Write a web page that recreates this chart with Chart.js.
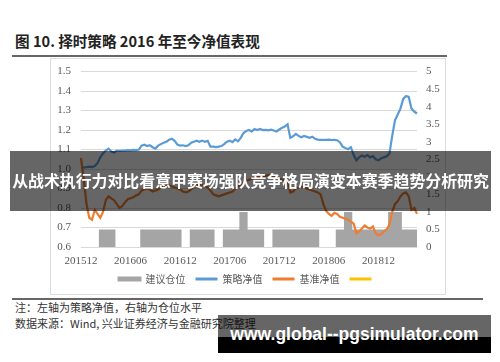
<!DOCTYPE html>
<html>
<head>
<meta charset="utf-8">
<script src="https://cdn.jsdelivr.net/npm/chart.js@4.4.1/dist/chart.umd.min.js"></script>
<style>
  body { margin: 0; width: 500px; height: 362px; background: #fff; position: relative; overflow: hidden;
         font-family: "Noto Sans CJK SC", sans-serif; }
  .abs { position: absolute; }
  #title { left: 15px; top: 31px; font-size: 14.6px; font-weight: bold; color: #222; white-space: nowrap; line-height: 20px; }
  #ruleTop { left: 12px; top: 55px; width: 435px; height: 2px; background: #666; }
  #ruleBottom { left: 12px; top: 298px; width: 471px; height: 2px; background: #666; }
  #frame { left: 50px; top: 58px; width: 394px; height: 235px; border: 1px solid #dcdcdc; }
  #chartBox { left: 50px; top: 55px; width: 395px; height: 239px; }
  .note { left: 15px; font-size: 11px; color: #333; white-space: nowrap; line-height: 14px; }
  #band { left: 10px; top: 151px; width: 481px; height: 60px; background: rgba(0,0,0,0.6);
          color: #fff; font-weight: bold; font-size: 15.9px; line-height: 60px; text-align: center; white-space: nowrap; z-index: 5; }
  #site { left: 218px; top: 315px; width: 273px; height: 38px; z-index: 5;
          background: linear-gradient(to bottom, rgba(0,0,0,0.6) 0, rgba(0,0,0,0.6) 22px, #000 22px, #000 38px);
          color: #fff; font-family: "Liberation Sans", sans-serif; font-weight: bold; font-size: 17.5px;
          line-height: 38px; text-align: center; white-space: nowrap; }
</style>
</head>
<body>
<div id="title" class="abs">图 10. 择时策略 2016 年至今净值表现</div>
<div id="ruleTop" class="abs"></div>
<div id="frame" class="abs"></div>
<div id="chartBox" class="abs"><canvas id="chart"></canvas></div>
<div id="ruleBottom" class="abs"></div>
<div class="abs note" style="top:300px">注：左轴为策略净值，右轴为仓位水平</div>
<div class="abs note" style="top:316px">数据来源：Wind, 兴业证券经济与金融研究院整理</div>
<div id="band" class="abs">从战术执行力对比看意甲赛场强队竞争格局演变本赛季趋势分析研究</div>
<div id="site" class="abs">www.global--pgsimulator.com</div>
<script>
// months on the x axis, three samples per month (1st, 11th, 21st)
const months = ['201512',
  '201601','201602','201603','201604','201605','201606','201607','201608','201609','201610','201611','201612',
  '201701','201702','201703','201704','201705','201706','201707','201708','201709','201710','201711','201712',
  '201801','201802','201803','201804','201805','201806','201807','201808','201809','201810','201811','201812',
  '201901','201902','201903','201904'];
const days = ['01', '11', '21'];
const tickLabels = ['201512', '201606', '201612', '201706', '201712', '201806', '201812'];

// 建议仓位 (right axis)
const position = [
  0,0,0,0,0,0,0, 0.5,0.5,0.5,0.5,0.5,0.5, 0,0,0,0,0,0,0,0,0,
  0.5,0.5,0.5,0.5,0.5,0.5,0.5,0.5,0.5,0.5,0.5,0.5,0.5,0.5,0.5, 0,0,0,
  0.5,0.5,0.5,0.5,0.5,0.5,0.5,0.5,0.5, 0,0,0,
  0.5,0.5,0.5,0.5,0.5,0.5, 1,1,1, 0.5,0.5,0.5,0.5,0.5,0.5, 0,0,0,
  0.5,0.5,0.5,0.5,0.5,0.5,0.5,0.5,0.5,0.5,0.5,0.5,0.5,0.5,0.5,0.5,0.5, 0,0,0,0,0,0,
  0.5,0.5,0.5, 1,1,1, 0.5,0.5,0.5,0.5,0.5,0.5,0.5,0.5,0.5,0.5,0.5,0.5,0.5,
  1,1,1,1,1, 0.5,0.5,0.5,0.5,0.5,0.5];

// 策略净值 (left axis)
const strategy = [
  1.010,1.008,1.010,1.012,1.010,1.015,1.030,1.060,1.080,1.095,1.105,1.090,
  1.085,1.095,1.093,1.095,1.095,1.097,1.096,1.098,1.097,1.100,1.120,1.125,
  1.118,1.122,1.112,1.105,1.120,1.128,1.135,1.140,1.150,1.155,1.145,1.125,
  1.120,1.122,1.118,1.122,1.135,1.140,1.145,1.140,1.146,1.140,1.145,1.115,
  1.115,1.113,1.115,1.118,1.128,1.140,1.145,1.138,1.152,1.142,1.160,1.185,
  1.195,1.200,1.193,1.205,1.200,1.206,1.200,1.201,1.199,1.202,1.198,1.193,
  1.203,1.212,1.218,1.230,1.160,1.168,1.180,1.170,1.163,1.170,1.165,1.160,
  1.166,1.155,1.151,1.150,1.150,1.150,1.151,1.149,1.150,1.148,1.138,1.115,
  1.108,1.102,1.112,1.072,1.045,1.060,1.070,1.063,1.072,1.060,1.066,1.050,
  1.045,1.055,1.060,1.065,1.080,1.170,1.250,1.280,1.310,1.360,1.375,1.370,
  1.310,1.295,1.285];

// 基准净值 (left axis)
const benchmark = [
  1.056,0.950,0.820,0.750,0.740,0.790,0.770,0.750,0.780,0.840,0.860,0.850,
  0.840,0.820,0.800,0.810,0.830,0.845,0.850,0.855,0.865,0.870,0.890,0.895,
  0.900,0.895,0.885,0.890,0.895,0.905,0.910,0.920,0.915,0.910,0.905,0.900,
  0.895,0.885,0.880,0.885,0.895,0.910,0.915,0.920,0.920,0.915,0.905,0.890,
  0.870,0.865,0.860,0.865,0.870,0.875,0.880,0.885,0.900,0.910,0.920,0.930,
  0.940,0.945,0.950,0.955,0.960,0.962,0.960,0.965,0.970,0.965,0.960,0.955,
  0.950,0.945,0.945,0.940,0.880,0.885,0.900,0.905,0.910,0.905,0.900,0.895,
  0.890,0.885,0.880,0.870,0.820,0.785,0.770,0.760,0.775,0.770,0.755,0.750,
  0.745,0.740,0.730,0.720,0.670,0.680,0.695,0.710,0.700,0.695,0.705,0.670,
  0.660,0.665,0.680,0.690,0.715,0.780,0.820,0.835,0.860,0.875,0.880,0.860,
  0.790,0.800,0.770];

const labels = [];
months.forEach(m => days.forEach(d => labels.push(m + d)));
labels.length = strategy.length;

const tickFont = { family: '"Liberation Serif", serif', size: 11 };
const ctx = document.getElementById('chart');

const chart = new Chart(ctx, {
  type: 'line',
  data: {
    labels: labels,
    datasets: [{
      label: '建议仓位',
      data: position,
      yAxisID: 'y1',
      borderColor: '#A5A5A5',
      backgroundColor: '#A5A5A5',
      borderWidth: 0,
      fill: 'start',
      stepped: 'middle',
      pointRadius: 0,
      order: 10
    }, {
      label: '策略净值',
      data: strategy,
      yAxisID: 'y',
      borderColor: '#5B9BD5',
      backgroundColor: '#5B9BD5',
      borderWidth: 2.2,
      pointRadius: 0,
      order: 2
    }, {
      label: '基准净值',
      data: benchmark,
      yAxisID: 'y',
      borderColor: '#ED7D31',
      backgroundColor: '#ED7D31',
      borderWidth: 2.2,
      pointRadius: 0,
      order: 1
    }, {
      label: '',
      data: [],
      yAxisID: 'y',
      borderColor: '#FFC000',
      backgroundColor: '#FFC000',
      borderWidth: 2,
      pointRadius: 0,
      order: 3
    }]
  },
  options: {
    responsive: true,
    maintainAspectRatio: false,
    animation: false,
    layout: { padding: { top: 5, bottom: 0, left: 0, right: 0 } },
    plugins: {
      tooltip: { enabled: false },
      legend: {
        position: 'bottom',
        labels: {
          boxWidth: 22,
          boxHeight: 3,
          padding: 10,
          color: '#595959',
          font: { family: '"Noto Sans CJK SC", sans-serif', size: 10 },
          sort: (a, b) => a.datasetIndex - b.datasetIndex,
          generateLabels: function (chart) {
            const items = Chart.defaults.plugins.legend.labels.generateLabels(chart);
            items.forEach(it => {
              it.lineWidth = it.datasetIndex === 0 ? 2 : 0;
            });
            return items;
          }
        }
      }
    },
    scales: {
      x: {
        grid: { display: false },
        border: { display: false },
        ticks: {
          autoSkip: false,
          maxRotation: 0,
          padding: 0,
          color: '#595959',
          font: tickFont,
          callback: function (value) {
            const lab = this.getLabelForValue(value);
            const m = lab.slice(0, 6);
            return (lab.endsWith('01') && tickLabels.includes(m)) ? m : null;
          }
        },
        afterFit: s => { s.height = 17; }
      },
      y: {
        position: 'left',
        min: 0.6,
        max: 1.5,
        grid: { color: '#d9d9d9', drawTicks: false },
        border: { display: false },
        ticks: {
          stepSize: 0.1,
          padding: 10,
          color: '#595959',
          font: tickFont,
          callback: v => v.toFixed(1)
        },
        afterFit: s => { s.width = 31; }
      },
      y1: {
        position: 'right',
        min: 0,
        max: 5,
        grid: { display: false, drawTicks: false },
        border: { display: false },
        ticks: {
          stepSize: 0.5,
          padding: 9,
          color: '#595959',
          font: tickFont,
          callback: v => String(v)
        },
        afterFit: s => { s.width = 28; }
      }
    }
  }
});
</script>
</body>
</html>
